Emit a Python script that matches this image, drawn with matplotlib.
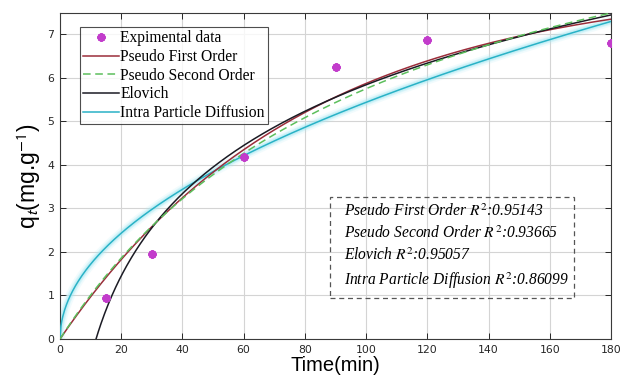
import numpy as np
import matplotlib
matplotlib.use("Agg")
import matplotlib.pyplot as plt
from matplotlib.patches import Rectangle

plt.rcParams["mathtext.fontset"] = "stix"

# Experimental adsorption data
time_exp = [15, 30, 60, 90, 120, 180]
q_exp = [0.94, 1.95, 4.19, 6.26, 6.87, 6.80]

# Fitted kinetic model parameters
pfo_qe, pfo_k1 = 8.2, 0.0126          # pseudo first order
pso_qe, pso_k2 = 12.05, 0.000758      # pseudo second order
elo_alpha, elo_beta = 0.2321, 0.3663  # Elovich
ipd_kp, ipd_c = 0.544, 0.0            # intra particle diffusion

model_names = ["Pseudo First Order", "Pseudo Second Order", "Elovich",
               "Intra Particle Diffusion"]
r2_values = ["0.95143", "0.93665", "0.95057", "0.86099"]

x_ticks = list(range(0, 181, 20))
y_ticks = list(range(0, 8))

t = np.linspace(0, 180, 600)
t_pos = np.linspace(0.5, 180, 600)
q_pfo = pfo_qe * (1 - np.exp(-pfo_k1 * t))
q_pso = pso_qe ** 2 * pso_k2 * t / (1 + pso_qe * pso_k2 * t)
q_elo = np.log(elo_alpha * elo_beta * t_pos) / elo_beta
q_ipd = ipd_kp * np.sqrt(t) + ipd_c

fig = plt.figure(figsize=(6.2, 3.83), dpi=100)
ax = fig.add_axes([0.0968, 0.1149, 0.8887, 0.852])

# soft halo behind the diffusion curve
for lw, a in [(7, 0.15), (4.5, 0.3), (3, 0.4)]:
    ax.plot(t, q_ipd, color="#a6e8f3", lw=lw, alpha=a, solid_capstyle="round",
            zorder=2)

ax.plot(time_exp, q_exp, linestyle="none", marker=(8, 2, 0), ms=6, mew=1.7,
        color="#c23ccb", label="Expimental data", zorder=6)
ax.plot(t, q_pfo, color="#9b2d3a", lw=1.1, label=model_names[0], zorder=4)
ax.plot(t, q_pso, color="#5cbf5c", lw=1.1, ls=(0, (5, 3)),
        label=model_names[1], zorder=5)
ax.plot(t_pos, q_elo, color="#1b1b24", lw=1.1, label=model_names[2], zorder=4)
ax.plot(t, q_ipd, color="#29b2c6", lw=1.1, label=model_names[3], zorder=3)

ax.set_xlim(0, 180)
ax.set_ylim(0, 7.5)
ax.set_xticks(x_ticks)
ax.set_yticks(y_ticks)
ax.grid(True, color="#d4d4d4", lw=0.8)
ax.set_axisbelow(True)
ax.tick_params(direction="in", top=True, right=True, length=4, width=0.7,
               labelsize=7.8, colors="#262626", pad=4)
for s in ax.spines.values():
    s.set_color("#3a3a3a")
    s.set_linewidth(0.8)

ax.set_xlabel("Time(min)", fontsize=14.5, family="Liberation Sans", labelpad=1)
ax.set_ylabel(r"q$_\mathsf{t}$(mg.g$^\mathsf{-1}$)", fontsize=16.5,
              family="Liberation Sans", labelpad=3)

leg = ax.legend(loc="upper left", bbox_to_anchor=(0.036, 0.955),
                prop={"family": "Liberation Serif", "size": 11.2},
                frameon=True, fancybox=False, edgecolor="#222222",
                borderpad=0.2, labelspacing=0.17, handlelength=2.3,
                handletextpad=0.1, borderaxespad=0.0)
leg.get_frame().set_linewidth(0.8)

# R^2 summary box (dashed outline, grid shows through)
lines = [f"{n} $R^2$:{v}" for n, v in zip(model_names, r2_values)]
ax.text(0.5145, 0.282, "\n".join(lines), transform=ax.transAxes,
        family="Liberation Serif", style="italic", fontsize=11.2,
        linespacing=1.42, va="center", ha="left", zorder=7)
ax.add_patch(Rectangle((0.490, 0.127), 0.4425, 0.3095,
                       transform=ax.transAxes, facecolor="none",
                       edgecolor="#555555", linestyle=(0, (4, 3)),
                       linewidth=0.9, zorder=7))

fig.savefig("out.png", dpi=100)
